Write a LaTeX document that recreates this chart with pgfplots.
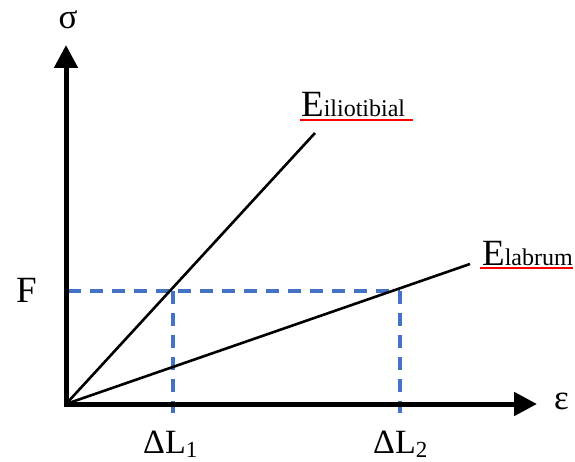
\documentclass[border=0pt]{standalone}
\usepackage{pgfplots}
\pgfplotsset{compat=1.18}
\usepackage{fontspec}
\setmainfont{Liberation Serif}
\usetikzlibrary{arrows.meta}
\definecolor{dashblue}{RGB}{68,114,196}
\begin{document}
\begin{tikzpicture}
\begin{axis}[
  scale only axis, width=575pt, height=461pt,
  xmin=0, xmax=575, ymin=0, ymax=461,
  axis lines=none, ticks=none, clip=false,
]
% dashed guide lines
\addplot[dashblue, line width=3.5pt, dash pattern=on 13pt off 9pt] coordinates {(68,170) (400,170)};
\addplot[dashblue, line width=3.5pt, dash pattern=on 13pt off 9pt] coordinates {(173,170) (173,48)};
\addplot[dashblue, line width=3.5pt, dash pattern=on 13pt off 9pt] coordinates {(400,170) (400,48)};
% modulus lines
\addplot[black, line width=2.6pt] coordinates {(66,57) (315,328)};
\addplot[black, line width=2.6pt] coordinates {(66,57) (470,197)};
% axes
\addplot[black, line width=5pt, line join=miter,
  {Triangle[length=23pt,width=23pt]}-{Triangle[length=23pt,width=23pt]}]
  coordinates {(66,416) (66,57) (537,57)};
% labels
\node[anchor=base, inner sep=0pt] at (axis cs:68,432) {\fontsize{35}{40}\selectfont σ};
\node[anchor=base west, inner sep=0pt] at (axis cs:554,52) {\fontsize{35}{40}\selectfont ε};
\node[anchor=base west, inner sep=0pt] at (axis cs:16,159) {\fontsize{37}{40}\selectfont F};
\node[anchor=base west, inner sep=0pt] at (axis cs:143,8) {\fontsize{34}{38}\selectfont ΔL\raisebox{-4pt}{\fontsize{23}{26}\selectfont 1}};
\node[anchor=base west, inner sep=0pt] at (axis cs:373,8) {\fontsize{34}{38}\selectfont ΔL\raisebox{-4pt}{\fontsize{23}{26}\selectfont 2}};
\node[anchor=base west, inner sep=0pt] at (axis cs:301,344) {\fontsize{37}{40}\selectfont E\fontsize{24}{26}\selectfont iliotibial};
\node[anchor=base west, inner sep=0pt] at (axis cs:482,196) {\fontsize{37}{40}\selectfont E\fontsize{24}{26}\selectfont labrum};
\draw[red, line width=2pt] (axis cs:300,341) -- (axis cs:413,341);
\draw[red, line width=2pt] (axis cs:480,193) -- (axis cs:573,193);
\end{axis}
\pgfresetboundingbox
\path (current axis.south west) rectangle (current axis.north east);
\end{tikzpicture}
\end{document}
